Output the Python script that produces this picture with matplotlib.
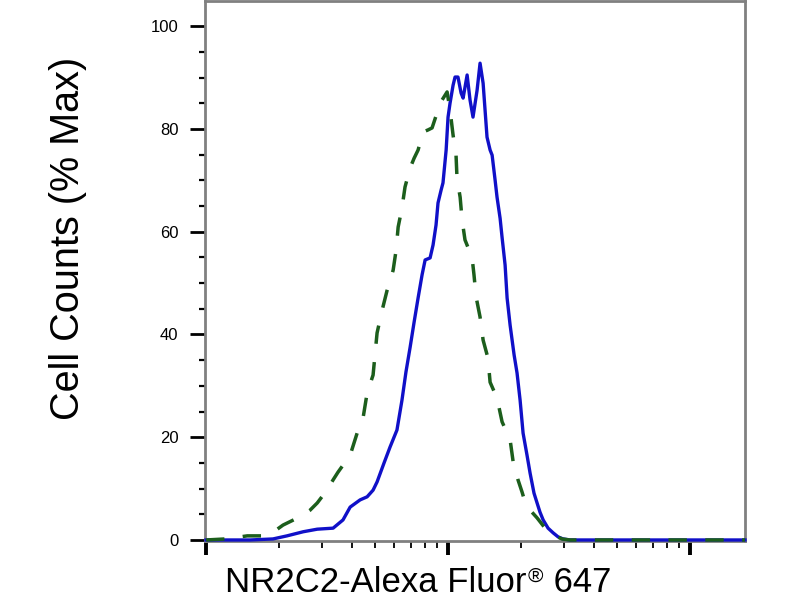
import numpy as np
import matplotlib
matplotlib.use("Agg")
import matplotlib.pyplot as plt
from matplotlib.ticker import LogLocator, NullFormatter, MultipleLocator

plt.rcParams['font.family'] = ['Liberation Sans', 'DejaVu Sans']

# stained sample (solid blue)
stain_x = [100, 122, 152, 189, 216, 252, 288, 335, 368, 394, 433, 463, 490, 509,
           544, 576, 615, 645, 670, 697, 724, 752, 781, 804, 843, 867, 892, 909,
           936, 953, 982, 1000, 1019, 1049, 1069, 1099, 1132, 1154, 1199, 1233,
           1268, 1318, 1356, 1396, 1449, 1492, 1521, 1565, 1594, 1641, 1672, 1721,
           1754, 1805, 1875, 1928, 1985, 2042, 2120, 2183, 2266, 2333, 2399, 2472,
           2590, 2716, 2850, 2986, 3192, 4246, 6836, 10990, 16870]
stain_y = [0, 0, 0, 0.2, 0.8, 1.6, 2.1, 2.3, 3.9, 6.4, 7.8, 8.4, 9.7, 11.3,
           15.0, 18.1, 21.4, 27.2, 32.7, 37.5, 42.4, 47.1, 51.6, 54.5, 54.9, 57.4,
           61.3, 65.6, 68.1, 69.5, 75.9, 82.3, 85.0, 88.5, 90.1, 90.1, 87.0, 86.0,
           90.5, 85.6, 82.3, 87.5, 92.8, 88.9, 78.4, 75.9, 74.9, 70.0, 66.7, 62.6,
           58.9, 53.5, 47.1, 41.8, 36.0, 32.5, 27.2, 20.8, 16.5, 13.0, 9.1, 7.2,
           5.4, 3.9, 2.3, 1.4, 0.6, 0.2, 0, 0, 0, 0, 0]

# isotype control (dashed green)
ctrl_x = [100, 120, 138, 148, 175, 193, 208, 244, 269, 288, 316, 335, 351, 394,
          421, 446, 463, 490, 509, 534, 560, 593, 610, 622, 645, 664, 697, 724,
          752, 788, 826, 859, 909, 944, 991, 1019, 1049, 1079, 1089, 1122, 1143,
          1175, 1222, 1256, 1280, 1306, 1356, 1396, 1462, 1492, 1594, 1672, 1805,
          1858, 1946, 2023, 2080, 2203, 2333, 2518, 2716, 2958, 3192, 16870]
ctrl_y = [0, 0.2, 0.6, 0.8, 0.8, 1.8, 2.9, 4.5, 5.8, 7.2, 9.7, 11.7, 13.2, 16.5,
          20.8, 23.9, 28.6, 32.1, 40.3, 44.7, 48.6, 52.5, 56.4, 60.9, 64.6, 68.7,
          72.4, 74.3, 75.9, 79.4, 79.8, 80.2, 83.7, 85.6, 87.2, 83.7, 78.8, 74.9,
          70.4, 66.7, 62.3, 58.4, 56.4, 55.1, 51.6, 47.3, 43.4, 38.9, 35.4, 30.7,
          27.6, 23.0, 19.5, 15.2, 11.7, 9.3, 7.4, 5.6, 4.3, 2.3, 1.0, 0.2, 0, 0]

yticks = [0, 20, 40, 60, 80, 100]

W, H = 800, 600
fig = plt.figure(figsize=(8, 6), dpi=100)
ax = fig.add_axes([205/W, 59/H, 540/W, 540/H])

ax.plot(stain_x, stain_y, color="#1010c8", lw=2.4, clip_on=False, zorder=3)
ax.plot(ctrl_x, ctrl_y, color="#1c5e1c", lw=2.5, linestyle=(0, (5.3, 5.3)),
        clip_on=False, zorder=4)

ax.set_xscale("log")
ax.set_xlim(99, 16870)
ax.set_ylim(-0.2, 104.9)

ax.xaxis.set_major_locator(LogLocator(base=10))
ax.xaxis.set_minor_locator(LogLocator(base=10, subs=np.arange(2, 10)))
ax.xaxis.set_major_formatter(NullFormatter())
ax.xaxis.set_minor_formatter(NullFormatter())

ax.set_yticks(yticks)
ax.yaxis.set_minor_locator(MultipleLocator(5))

for s in ax.spines.values():
    s.set_color("#808080")
    s.set_linewidth(2.0)

ax.tick_params(axis="x", which="major", length=10, width=2.8, color="black")
ax.tick_params(axis="x", which="minor", length=5, width=1.3, color="black")
ax.tick_params(axis="y", which="major", length=11, width=2.0, color="black",
               pad=8, labelsize=12)
ax.tick_params(axis="y", which="minor", length=4.3, width=1.6, color="black")

fig.text(68/W, 1 - 238/H, "Cell Counts (% Max)", rotation=90,
         ha="center", va="center", fontsize=28.5)

# x label in three pieces so the registered mark sits like a superscript
r = fig.canvas.get_renderer()
base = 1 - 592/H
t1 = fig.text(225/W, base, "NR2C2-Alexa Fluor", ha="left", va="baseline",
              fontsize=25)
x1 = t1.get_window_extent(r).x1
t2 = fig.text((x1 + 1)/W, base + 10/H, "®", ha="left", va="baseline",
              fontsize=15)
x2 = t2.get_window_extent(r).x1
fig.text((x2 + 1)/W, base, " 647", ha="left", va="baseline", fontsize=25)

fig.savefig("out.png", dpi=100)
